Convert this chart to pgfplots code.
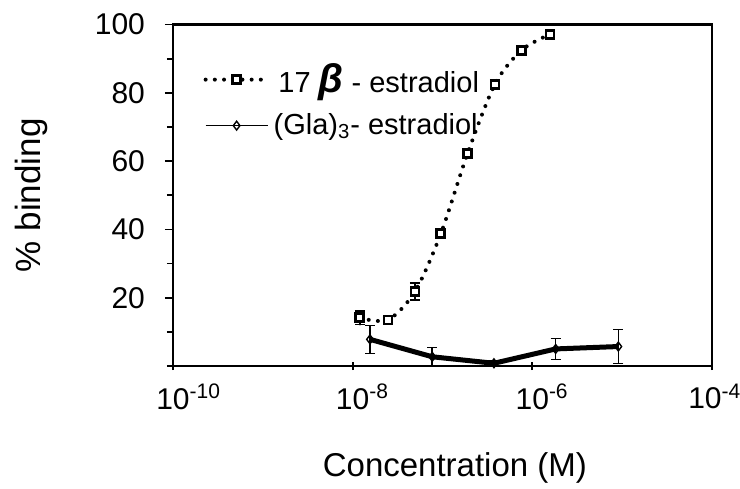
\documentclass[border=0pt]{standalone}
\usepackage{pgfplots}
\pgfplotsset{compat=1.18}
\usepackage{fontspec}
\setmainfont{Liberation Sans}
\pgfplotsset{
  longlegend/.style={legend image code/.code={\draw[mark repeat=2, mark phase=2, ##1] plot coordinates {(0pt,0pt) (15.5pt,0pt) (31pt,0pt)};}},
  thinlegend/.style={legend image code/.code={\draw[mark repeat=2, mark phase=2, ##1, line width=0.7pt] plot coordinates {(0pt,0pt) (15.5pt,0pt) (31pt,0pt)};}},
}
\begin{document}
\begin{tikzpicture}
\begin{axis}[
  at={(0pt,0pt)}, anchor=south west,
  scale only axis, width=269.5pt, height=170.75pt,
  xmode=log, xmin=1e-10, xmax=1e-4,
  ymin=0, ymax=100,
  xtick={1e-10,1e-8,1e-6,1e-4},
  xticklabels={10\rlap{\textsuperscript{-10}},10\rlap{\textsuperscript{-8}},10\rlap{\textsuperscript{-6}},\hspace*{-7pt}10\rlap{\textsuperscript{-4}}},
  xminorticks=false,
  ytick={20,40,60,80,100},
  minor ytick={0,10,30,50,70,90},
  tick pos=left,
  xtick align=center,
  ytick align=outside,
  major tick length=4pt, minor tick length=3pt,
  tick style={black, line width=0.9pt},
  axis line style={line width=1.3pt},
  /pgf/number format/assume math mode=true,
  ticklabel style={font=\fontsize{15}{18}\selectfont},
  yticklabel style={xshift=-6.5pt},
  xticklabel style={yshift=-3.5pt},
  xlabel={Concentration (M)},
  xlabel style={at={(axis description cs:0.523,-0.299)}, anchor=center, font=\fontsize{16.5}{20}\selectfont},
  ylabel={\% binding},
  ylabel style={at={(axis description cs:-0.262,0.5)}, anchor=center, font=\fontsize{17.5}{20}\selectfont},
  legend style={at={(axis description cs:0.045,0.91)}, anchor=north west, draw=none, fill=none,
    font=\fontsize{14.5}{17}\selectfont, row sep=5pt, nodes={inner xsep=2pt}},
  legend cell align=left,
]
\addplot[black, line width=2pt, dash pattern=on 0pt off 4.6pt, line cap=round, smooth,
  mark=square*, mark size=2pt, mark options={solid, fill=white, line width=1.4pt},
  longlegend,
  error bars/.cd, y dir=both, y explicit,
  error bar style={solid, line width=0.8pt},
  error mark options={rotate=90, mark size=2.5pt, line width=0.8pt},
  ]
coordinates {
(1.2e-8,14.1) +- (0,2.0)
(2.47e-8,13.5) +- (0,0.8)
(4.94e-8,21.8) +- (0,2.5)
(9.6e-8,38.8) +- (0,1.0)
(1.9e-7,62.2) +- (0,1.0)
(3.84e-7,82.5) +- (0,1.2)
(7.6e-7,92.5) +- (0,0.8)
(1.57e-6,97.1) +- (0,0.6)
};
\addlegendentry{\,17 {\fontsize{20}{20}\selectfont\bfseries\itshape β} - estradiol}
\addplot[black, line width=2.5pt, solid,
  mark=diamond, mark size=2.2pt, mark options={solid, fill=white, line width=0.7pt},
  thinlegend,
  error bars/.cd, y dir=both, y explicit,
  error bar style={solid, line width=0.8pt},
  error mark options={rotate=90, mark size=2.5pt, line width=0.8pt},
  ]
coordinates {
(1.56e-8,7.8) +- (0,4.1)
(7.7e-8,2.7) +- (0,2.7)
(3.74e-7,0.8) +- (0,0.6)
(1.82e-6,5.0) +- (0,3.1)
(9.06e-6,5.7) +- (0,5.0)
};
\addlegendentry{(Gla)\textsubscript{3}- estradiol}
\end{axis}
\pgfresetboundingbox
\path (-86.5pt,-61pt) rectangle (283.5pt,183pt);
\end{tikzpicture}
\end{document}
